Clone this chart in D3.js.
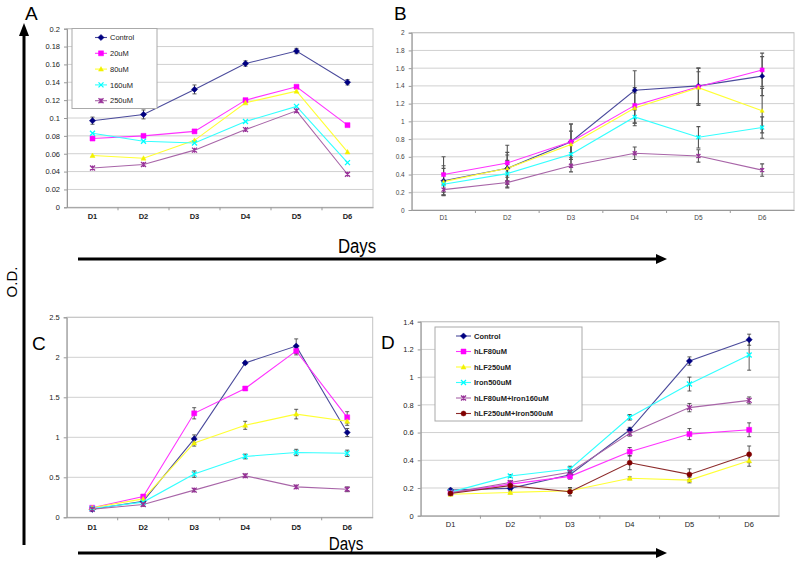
<!DOCTYPE html>
<html><head><meta charset="utf-8">
<script src="https://cdn.jsdelivr.net/npm/d3@7"></script>
<style>body{margin:0;background:#fff} svg{display:block}</style>
</head><body><svg id="chart" width="800" height="570"></svg>
<script>
// ---------- DATA ----------
const days = ["D1","D2","D3","D4","D5","D6"];
const namesAC = ["Control","20uM","80uM","160uM","250uM"];
const namesD = ["Control","hLF80uM","hLF250uM","Iron500uM","hLF80uM+Iron160uM","hLF250uM+Iron500uM"];

const ticksA = [0,0.02,0.04,0.06,0.08,0.1,0.12,0.14,0.16,0.18,0.2];
const ticksB = [0,0.2,0.4,0.6,0.8,1,1.2,1.4,1.6,1.8,2];
const ticksC = [0,0.5,1,1.5,2,2.5];
const ticksD = [0,0.2,0.4,0.6,0.8,1,1.2,1.4];

const valuesA = [
  [0.097,0.104,0.132,0.161,0.175,0.140],
  [0.077,0.080,0.085,0.120,0.135,0.092],
  [0.058,0.055,0.075,0.117,0.130,0.062],
  [0.083,0.074,0.072,0.096,0.113,0.050],
  [0.044,0.048,0.064,0.087,0.108,0.037]
];
const errorsA = [
  [0.004,0.005,0.005,0.003,0.003,0.003],
  [0,0,0,0,0,0],
  [0,0,0,0,0,0],
  [0,0,0,0,0,0],
  [0,0,0,0,0,0]
];
const valuesB = [
  [0.33,0.47,0.77,1.35,1.40,1.51],
  [0.40,0.53,0.77,1.18,1.39,1.58],
  [0.32,0.47,0.74,1.15,1.38,1.12],
  [0.29,0.41,0.63,1.05,0.82,0.93],
  [0.23,0.31,0.50,0.64,0.61,0.45]
];
const errorsB = [
  [0.17,0.18,0.20,0.22,0.20,0.22],
  [0.20,0.20,0.20,0.20,0.21,0.19],
  [0.15,0.15,0.15,0.17,0.18,0.25],
  [0.12,0.15,0.15,0.10,0.12,0.12],
  [0.06,0.06,0.07,0.07,0.07,0.07]
];
const valuesC = [
  [0.10,0.20,0.98,1.93,2.14,1.06],
  [0.12,0.26,1.30,1.61,2.08,1.25],
  [0.12,0.23,0.93,1.15,1.29,1.20],
  [0.11,0.19,0.54,0.76,0.81,0.80],
  [0.10,0.16,0.34,0.52,0.38,0.35]
];
const errorsC = [
  [0.01,0.02,0.05,0.02,0.09,0.05],
  [0.01,0.02,0.07,0.02,0.05,0.07],
  [0.01,0.02,0.04,0.05,0.06,0.05],
  [0.01,0.02,0.04,0.03,0.04,0.04],
  [0.01,0.02,0.02,0.02,0.02,0.03]
];
const valuesD = [
  [0.185,0.197,0.296,0.618,1.116,1.270],
  [0.165,0.228,0.284,0.462,0.589,0.620],
  [0.155,0.168,0.180,0.270,0.257,0.397],
  [0.170,0.286,0.337,0.710,0.950,1.160],
  [0.165,0.240,0.313,0.594,0.780,0.832],
  [0.160,0.217,0.173,0.382,0.298,0.443]
];
const errorsD = [
  [0.01,0.01,0.02,0.02,0.03,0.04],
  [0.01,0.01,0.02,0.03,0.04,0.05],
  [0.01,0.01,0.02,0.01,0.02,0.04],
  [0.01,0.01,0.02,0.02,0.05,0.11],
  [0.01,0.01,0.02,0.02,0.03,0.025],
  [0.01,0.01,0.03,0.05,0.04,0.06]
];
const seriesColors = ["#000080","#FF00FF","#F2F200","#00FFFF","#993399","#800000"];
const lineColors   = ["#4b4b9c","#FF33FF","#FFFF33","#33FFFF","#a865a8","#8c2a2a"];
const seriesShapes = ["diamond","square","triangle","times","asterisk","circle"];

// ---------- DRAWING ----------
const svg = d3.select("#chart");
const fmt = d => String(+d.toFixed(2));

function markerPath(shape, s) {
  const h = s / 2;
  switch (shape) {
    case "diamond": return `M0,${-h-0.6}L${h+0.6},0L0,${h+0.6}L${-h-0.6},0Z`;
    case "square": return `M${-h},${-h}H${h}V${h}H${-h}Z`;
    case "triangle": return `M0,${-h}L${h},${h*0.8}L${-h},${h*0.8}Z`;
    case "times": return `M${-h},${-h}L${h},${h}M${-h},${h}L${h},${-h}`;
    case "asterisk": return `M${-h},${-h}L${h},${h}M${-h},${h}L${h},${-h}M0,${-h}V${h}`;
    case "circle": return `M${h},0A${h},${h} 0 1,1 ${-h},0A${h},${h} 0 1,1 ${h},0Z`;
  }
}
function drawMarker(g, shape, color, x, y, s) {
  const stroke = shape === "times" || shape === "asterisk";
  g.append("path").attr("transform", `translate(${x},${y})`)
    .attr("d", markerPath(shape, s))
    .attr("fill", stroke ? "none" : color)
    .attr("stroke", color).attr("stroke-width", stroke ? 1.3 : 0.5);
}

function drawPanel(o) {
  const g = svg.append("g");
  const x = d3.scaleBand().domain(days).range([o.left, o.right]);
  const y = d3.scaleLinear().domain([0, o.ticks[o.ticks.length - 1]]).range([o.bottom, o.top]);
  const cx = d => x(d) + x.bandwidth() / 2;

  g.selectAll(".grid").data(o.ticks.filter(t => t > 0)).join("line")
    .attr("x1", o.left).attr("x2", o.right)
    .attr("y1", d => y(d)).attr("y2", d => y(d))
    .attr("stroke", "#d0d0d0").attr("stroke-width", 1);
  g.append("rect").attr("x", o.left).attr("y", o.top)
    .attr("width", o.right - o.left).attr("height", o.bottom - o.top)
    .attr("fill", "none").attr("stroke", "#c4c4c4");

  const ya = g.append("g").attr("transform", `translate(${o.left},0)`)
    .call(d3.axisLeft(y).tickValues(o.ticks).tickFormat(fmt).tickSize(3).tickPadding(4));
  ya.select(".domain").attr("stroke", "#999");
  ya.selectAll(".tick line").attr("stroke", "#999");
  ya.selectAll("text").attr("font-family", "Liberation Sans, Arial, sans-serif")
    .attr("font-size", o.yFont).attr("fill", o.textColor);

  const xa = g.append("g").attr("transform", `translate(0,${o.bottom})`)
    .call(d3.axisBottom(x).tickSize(0).tickPadding(o.xPad));
  xa.select(".domain").attr("stroke", "#999");
  xa.selectAll("text").attr("font-family", "Liberation Sans, Arial, sans-serif")
    .attr("font-size", o.xFont).attr("font-weight", o.xBold ? "bold" : "normal")
    .attr("fill", o.textColor);
  g.selectAll(".xt").data(days.slice(1)).join("line")
    .attr("x1", d => x(d)).attr("x2", d => x(d))
    .attr("y1", o.bottom).attr("y2", o.bottom + 3).attr("stroke", "#999");

  const line = d3.line().x((d, i) => cx(days[i])).y(d => y(d));
  o.values.forEach((vals, si) => {
    g.append("path").datum(vals).attr("d", line)
      .attr("fill", "none").attr("stroke", lineColors[si]).attr("stroke-width", 1.1);
  });
  o.values.forEach((vals, si) => {
    vals.forEach((v, i) => {
      const e = o.errors[si][i];
      if (!e) return;
      const xx = cx(days[i]);
      g.append("path")
        .attr("d", `M${xx},${y(v - e)}V${y(v + e)}M${xx - 2},${y(v - e)}H${xx + 2}M${xx - 2},${y(v + e)}H${xx + 2}`)
        .attr("stroke", o.errColor).attr("stroke-width", o.errWidth).attr("fill", "none");
    });
  });
  o.values.forEach((vals, si) => {
    vals.forEach((v, i) => drawMarker(g, seriesShapes[si], seriesColors[si], cx(days[i]), y(v), o.markerSize));
  });

  if (o.legend) {
    const L = o.legend;
    g.append("rect").attr("x", L.x).attr("y", L.y).attr("width", L.w).attr("height", L.h)
      .attr("fill", "#fff").attr("stroke", "#aaa");
    o.names.forEach((n, i) => {
      const yy = L.y + L.first + i * L.step;
      g.append("line").attr("x1", L.x + L.lx0).attr("x2", L.x + L.lx1).attr("y1", yy).attr("y2", yy)
        .attr("stroke", lineColors[i]).attr("stroke-width", 1.1);
      drawMarker(g, seriesShapes[i], seriesColors[i], L.x + (L.lx0 + L.lx1) / 2, yy, o.markerSize);
      g.append("text").attr("x", L.x + L.tx).attr("y", yy).attr("dy", "0.35em")
        .attr("font-family", "Liberation Sans, Arial, sans-serif").attr("font-size", L.font)
        .attr("font-weight", L.bold ? "bold" : "normal").attr("fill", "#222").text(n);
    });
  }
  svg.append("text").attr("x", o.letter[0]).attr("y", o.letter[1])
    .attr("font-family", "Liberation Sans, Arial, sans-serif").attr("font-size", 19)
    .attr("fill", "#000").text(o.letter[2]);
}

drawPanel({left:67, right:373, top:28.7, bottom:207.3, ticks:ticksA, values:valuesA, errors:errorsA,
  names:namesAC, yFont:7.5, xFont:7.5, xBold:true, xPad:6, textColor:"#222",
  errColor:"#333", errWidth:0.8, markerSize:5, letter:[25,20,"A"],
  legend:{x:72, y:28.5, w:85, h:80, first:9, step:15.8, lx0:23, lx1:35, tx:38, font:7.5, bold:false}});

drawPanel({left:411.7, right:794, top:32.7, bottom:210, ticks:ticksB, values:valuesB, errors:errorsB,
  names:namesAC, yFont:6.5, xFont:6.5, xBold:false, xPad:5, textColor:"#444",
  errColor:"#555", errWidth:1.1, markerSize:4, letter:[394,20,"B"]});

drawPanel({left:66.7, right:372.7, top:317.3, bottom:517.3, ticks:ticksC, values:valuesC, errors:errorsC,
  names:namesAC, yFont:7.5, xFont:7.5, xBold:true, xPad:7, textColor:"#222",
  errColor:"#333", errWidth:0.8, markerSize:5, letter:[32,350,"C"]});

drawPanel({left:420.7, right:779, top:321.7, bottom:515.7, ticks:ticksD, values:valuesD, errors:errorsD,
  names:namesD, yFont:7.5, xFont:7.5, xBold:false, xPad:6, textColor:"#222",
  errColor:"#333", errWidth:0.8, markerSize:5, letter:[381,349,"D"],
  legend:{x:435, y:327, w:147, h:94, first:9, step:15.5, lx0:21, lx1:36, tx:39, font:7.5, bold:true}});

// ---------- Axis arrows & labels ----------
const deco = svg.append("g").attr("fill", "#000").attr("stroke", "#000");
deco.append("line").attr("x1", 24).attr("x2", 24).attr("y1", 545).attr("y2", 32).attr("stroke-width", 3);
deco.append("path").attr("d", "M24,23L19,36L29,36Z").attr("stroke", "none");
[259, 553].forEach(yy => {
  deco.append("line").attr("x1", 78).attr("x2", 658).attr("y1", yy).attr("y2", yy).attr("stroke-width", 3);
  deco.append("path").attr("d", `M667,${yy}L656,${yy - 5}L656,${yy + 5}Z`).attr("stroke", "none");
});
const lab = svg.append("g").attr("font-family", "Liberation Sans, Arial, sans-serif").attr("fill", "#000");
lab.append("text").attr("transform", "translate(357,253) scale(0.8,1)").attr("text-anchor", "middle")
  .attr("font-size", 21).text("Days");
lab.append("text").attr("transform", "translate(346,550) scale(0.8,1)").attr("text-anchor", "middle")
  .attr("font-size", 19).text("Days");
lab.append("text").attr("transform", "translate(17,282) rotate(-90)").attr("text-anchor", "middle")
  .attr("font-size", 15).text("O.D.");
</script></body></html>
